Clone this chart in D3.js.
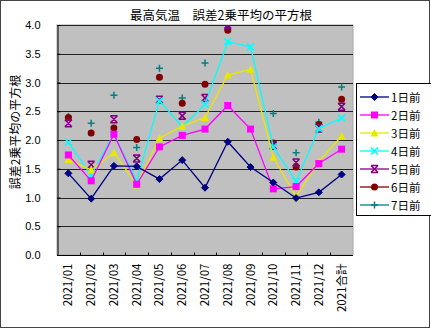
<!DOCTYPE html>
<html>
<head>
<meta charset="utf-8">
<script src="https://cdn.jsdelivr.net/npm/d3@7/dist/d3.min.js"></script>
<style>
  html, body { margin: 0; padding: 0; background: #fff; }
  svg { display: block; }
  text { font-family: "Noto Sans CJK JP", "DejaVu Sans", sans-serif; fill: #000; }
</style>
</head>
<body>
<svg id="chart" width="431" height="329"></svg>
<script>
// Monthly RMSE of the daily maximum temperature forecast, by lead time
const categories = ["2021/01","2021/02","2021/03","2021/04","2021/05","2021/06","2021/07",
                    "2021/08","2021/09","2021/10","2021/11","2021/12","2021合計"];
const seriesNames = ["1日前","2日前","3日前","4日前","5日前","6日前","7日前"];
const day1 = [1.42, 0.98, 1.55, 1.54, 1.32, 1.65, 1.17, 1.97, 1.53, 1.26, 0.99, 1.09, 1.40];
const day2 = [1.74, 1.29, 2.10, 1.23, 1.88, 2.08, 2.19, 2.60, 2.19, 1.15, 1.19, 1.59, 1.84];
const day3 = [1.66, 1.48, 1.78, 1.22, 2.03, 2.24, 2.39, 3.13, 3.23, 1.70, 1.01, 1.63, 2.07];
const day4 = [1.96, 1.39, 2.10, 1.29, 2.68, 2.23, 2.62, 3.71, 3.62, 1.88, 1.28, 2.20, 2.38];
const day5 = [2.29, 1.57, 2.36, 1.68, 2.70, 2.42, 2.73, 4.00, null, 1.90, 1.61, 2.20, 2.58];
const day6 = [2.39, 2.12, 2.21, 2.01, 3.09, 2.64, 2.97, 3.91, null, 1.95, 1.53, 2.27, 2.71];
const day7 = [2.41, 2.29, 2.78, 1.87, 3.25, 2.73, 3.34, null, null, 2.46, 1.78, 2.31, 2.92];
const yTicks = [0, 0.5, 1.0, 1.5, 2.0, 2.5, 3.0, 3.5, 4.0];

const seriesValues = [day1, day2, day3, day4, day5, day6, day7];
const colors  = ["#000080", "#ff00ff", "#e8e800", "#00ffff", "#800080", "#800000", "#008080"];
const markers = ["diamond", "square", "triangle", "cross", "asterisk", "circle", "plus"];
const drawLine = [true, true, true, true, false, false, false];

const svg = d3.select("#chart");
const W = 431, H = 329;
const plot = { left: 57, top: 25, right: 353, bottom: 255 };

// outer frame
svg.append("rect").attr("x", 0.5).attr("y", 0.5).attr("width", W - 2).attr("height", H - 2)
  .attr("fill", "#fff").attr("stroke", "#444").attr("stroke-width", 1);

const x = d3.scaleBand().domain(categories).range([plot.left, plot.right]).padding(0);
const y = d3.scaleLinear().domain([0, 4]).range([plot.bottom, plot.top]);

// plot background
svg.append("rect").attr("x", plot.left).attr("y", plot.top)
  .attr("width", plot.right - plot.left).attr("height", plot.bottom - plot.top)
  .attr("fill", "#c0c0c0").attr("stroke", "#a8a8a8");

// horizontal gridlines
svg.append("g").selectAll("line").data(yTicks.filter(v => v > 0)).join("line")
  .attr("x1", plot.left).attr("x2", plot.right)
  .attr("y1", d => Math.round(y(d)) + 0.5).attr("y2", d => Math.round(y(d)) + 0.5)
  .attr("stroke", "#222").attr("stroke-width", 1);

// y axis
const yAxis = svg.append("g").attr("transform", `translate(${plot.left + 0.5},0)`)
  .call(d3.axisLeft(y).tickValues(yTicks).tickFormat(d3.format(".1f")).tickSize(-3).tickPadding(17));
yAxis.select(".domain").attr("stroke", "#000");
yAxis.selectAll(".tick line").attr("stroke", "#000");
yAxis.selectAll("text").attr("font-size", 11).attr("fill", "#000")
  .style("font-family", "'Liberation Sans', Arial, sans-serif");

// x axis: ticks at category boundaries, pointing inward
const xAxis = svg.append("g").attr("transform", `translate(0,${plot.bottom + 0.5})`);
xAxis.append("line").attr("x1", plot.left).attr("x2", plot.right).attr("stroke", "#000");
xAxis.selectAll("line.tk").data(categories.slice(1)).join("line").attr("class", "tk")
  .attr("x1", d => Math.round(x(d)) + 0.5).attr("x2", d => Math.round(x(d)) + 0.5)
  .attr("y1", 0).attr("y2", -3).attr("stroke", "#000");
xAxis.selectAll("text").data(categories).join("text")
  .attr("transform", d => `translate(${x(d) + x.bandwidth() / 2 + 4},8) rotate(-90)`)
  .attr("text-anchor", "end").attr("font-size", 11.5)
  .style("font-family", "'Noto Sans CJK JP', 'Liberation Sans', sans-serif")
  .text(d => d);

// title and y-axis label
svg.append("text").attr("x", 221).attr("y", 20).attr("text-anchor", "middle")
  .attr("font-size", 12.5).text("最高気温　誤差2乗平均の平方根");
svg.append("text").attr("transform", "translate(20,132) rotate(-90)")
  .attr("text-anchor", "middle").attr("font-size", 12).text("誤差2乗平均の平方根");

// marker drawing
function drawMarker(g, type, color, s) {
  const r = s / 2;
  switch (type) {
    case "diamond":
      g.append("path").attr("d", `M0,${-r}L${r},0L0,${r}L${-r},0Z`).attr("fill", color).attr("stroke", color);
      break;
    case "square":
      g.append("rect").attr("x", -r).attr("y", -r).attr("width", s).attr("height", s).attr("fill", color);
      break;
    case "triangle":
      g.append("path").attr("d", `M0,${-r - 0.5}L${r + 0.5},${r}L${-r - 0.5},${r}Z`).attr("fill", color);
      break;
    case "cross":
      g.append("path").attr("d", `M${-r},${-r}L${r},${r}M${-r},${r}L${r},${-r}`)
        .attr("stroke", color).attr("stroke-width", 1.6).attr("fill", "none");
      break;
    case "asterisk":
      g.append("path").attr("d", `M${-r},${-r}L${r},${r}M${-r},${r}L${r},${-r}M${-r},${-r}H${r}M${-r},${r}H${r}`)
        .attr("stroke", color).attr("stroke-width", 1.5).attr("fill", "none");
      break;
    case "circle":
      g.append("circle").attr("r", r).attr("fill", color);
      break;
    case "plus":
      g.append("path").attr("d", `M${-r},0H${r}M0,${-r}V${r}`)
        .attr("stroke", color).attr("stroke-width", 1.5).attr("fill", "none");
      break;
  }
}

svg.append("clipPath").attr("id", "plotClip").append("rect")
  .attr("x", plot.left).attr("y", plot.top)
  .attr("width", plot.right - plot.left).attr("height", plot.bottom - plot.top);
const marks = svg.append("g").attr("clip-path", "url(#plotClip)");
const cx = c => x(c) + x.bandwidth() / 2;

// series, drawn from 7日前 back to 1日前 so the short lead times sit on top
for (let i = seriesValues.length - 1; i >= 0; i--) {
  const pts = categories.map((c, j) => ({ c, v: seriesValues[i][j] }));
  const g = marks.append("g");
  if (drawLine[i]) {
    g.append("path").datum(pts)
      .attr("d", d3.line().defined(d => d.v != null).x(d => cx(d.c)).y(d => y(d.v)))
      .attr("fill", "none").attr("stroke", colors[i]).attr("stroke-width", 1.3);
  }
  pts.filter(d => d.v != null).forEach(d => {
    drawMarker(g.append("g").attr("transform", `translate(${cx(d.c)},${y(d.v)})`), markers[i], colors[i], 7);
  });
}

// legend
const lg = svg.append("g");
lg.append("rect").attr("x", 356.5).attr("y", 83.5).attr("width", 80).attr("height", 132)
  .attr("fill", "#fff").attr("stroke", "#000");
seriesNames.forEach((name, i) => {
  const yy = 97 + i * 18;
  lg.append("line").attr("x1", 360).attr("x2", 389).attr("y1", yy).attr("y2", yy)
    .attr("stroke", colors[i]).attr("stroke-width", 1.3);
  drawMarker(lg.append("g").attr("transform", `translate(374.5,${yy})`), markers[i], colors[i], 7);
  lg.append("text").attr("x", 391).attr("y", yy + 4.5).attr("font-size", 11.5).text(name);
});
</script>
</body>
</html>
